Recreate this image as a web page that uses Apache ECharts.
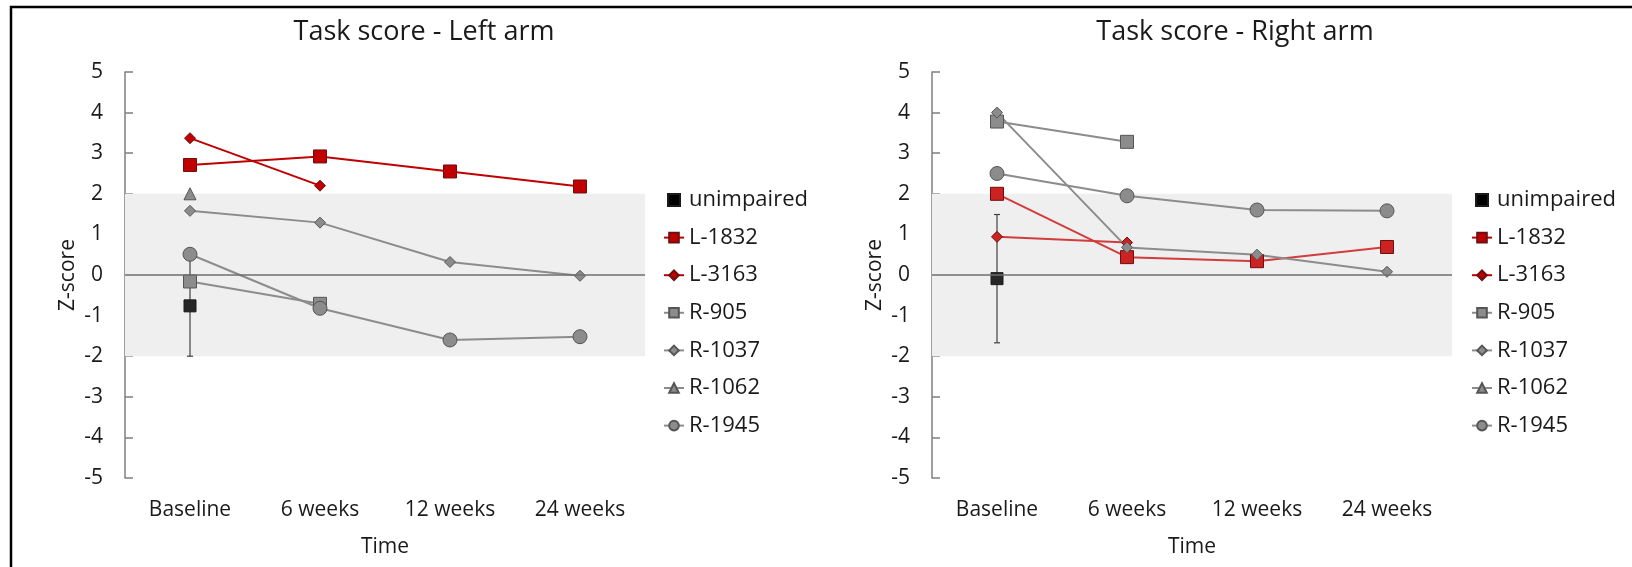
<!DOCTYPE html>
<html>
<head>
<meta charset="utf-8">
<title>Task score</title>
<script src="https://cdn.jsdelivr.net/npm/echarts@6/dist/echarts.min.js"></script>
<style>
    html, body { margin: 0; padding: 0; background: #fff; }
    #chart { width: 1632px; height: 567px; }
</style>
</head>
<body>
<div id="chart"></div>
<script>
// 横轴类别
const timeLabels = ['Baseline', '6 weeks', '12 weeks', '24 weeks'];
const seriesNames = ['unimpaired', 'L-1832', 'L-3163', 'R-905', 'R-1037', 'R-1062', 'R-1945'];

// 左臂数据
const leftUnimpaired = [-0.76, null, null, null];
const leftUnimpairedSd = [1.24, null, null, null];
const leftL1832 = [2.71, 2.92, 2.55, 2.18];
const leftL3163 = [3.37, 2.20, null, null];
const leftR905 = [-0.16, -0.71, null, null];
const leftR1037 = [1.58, 1.29, 0.32, -0.02];
const leftR1062 = [2.00, null, null, null];
const leftR1945 = [0.51, -0.82, -1.60, -1.52];

// 右臂数据
const rightUnimpaired = [-0.09, null, null, null];
const rightUnimpairedSd = [1.58, null, null, null];
const rightL1832 = [2.00, 0.44, 0.34, 0.69];
const rightL3163 = [0.94, 0.80, null, null];
const rightR905 = [3.78, 3.28, null, null];
const rightR1037 = [4.00, 0.68, 0.50, 0.08];
const rightR1062 = [null, null, null, null];
const rightR1945 = [2.50, 1.95, 1.60, 1.58];

const FONT = 'Open Sans';
const TEXT = '#1a1a1a';
const GRAY = '#8c8c8c';
const GRAY_BORDER = '#555';

const chart = echarts.init(document.getElementById('chart'));

// 每个小图的位置
const panels = [
    { title: 'Task score - Left arm', gridLeft: 125, titleX: 419, legendX: 658, red: '#c00000', redLine: '#c00000',
      data: [leftUnimpaired, leftL1832, leftL3163, leftR905, leftR1037, leftR1062, leftR1945], sd: leftUnimpairedSd },
    { title: 'Task score - Right arm', gridLeft: 932, titleX: 1230, legendX: 1466, red: '#cc2222', redLine: '#d23c3c',
      data: [rightUnimpaired, rightL1832, rightL3163, rightR905, rightR1037, rightR1062, rightR1945], sd: rightUnimpairedSd }
];

function markerStyle(name, p) {
    const isRed = name.startsWith('L-');
    const shape = { 'L-1832': 'rect', 'L-3163': 'diamond', 'R-905': 'rect', 'R-1037': 'diamond', 'R-1062': 'triangle', 'R-1945': 'circle' }[name];
    const size = { 'L-1832': 13, 'L-3163': 11, 'R-905': 13, 'R-1037': 11, 'R-1062': 12, 'R-1945': 14 }[name];
    return {
        symbol: shape,
        symbolSize: size,
        lineStyle: { color: isRed ? p.redLine : GRAY, width: 2 },
        itemStyle: { color: isRed ? p.red : GRAY, borderColor: isRed ? '#6b0f0f' : GRAY_BORDER, borderWidth: 1 }
    };
}

const option = {
    animation: false,
    textStyle: { fontFamily: FONT },
    title: [],
    legend: [],
    grid: [],
    xAxis: [],
    yAxis: [],
    series: [],
    graphic: [{
        type: 'polyline',
        shape: { points: [[11, 567], [11, 7], [1632, 7]] },
        style: { stroke: '#000', lineWidth: 2.5, fill: null }
    }]
};

panels.forEach((p, i) => {
    option.title.push({
        text: p.title, left: p.titleX, top: 14, textAlign: 'center',
        textStyle: { fontFamily: FONT, fontSize: 27, fontWeight: 'normal', color: TEXT }
    });
    option.grid.push({ left: p.gridLeft, top: 72, width: 520, height: 406 });
    option.xAxis.push({
        type: 'category', gridIndex: i, data: timeLabels, boundaryGap: true,
        axisLine: { show: false }, axisTick: { show: false },
        axisLabel: { color: TEXT, fontSize: 21, margin: 22, fontFamily: FONT },
        name: 'Time', nameLocation: 'middle', nameGap: 59,
        nameTextStyle: { color: TEXT, fontSize: 21, fontFamily: FONT }
    });
    option.yAxis.push({
        type: 'value', gridIndex: i, min: -5, max: 5, interval: 1,
        axisLine: { show: true, lineStyle: { color: '#7f7f7f', width: 1.5 } },
        axisTick: { show: true, inside: true, length: 8, lineStyle: { color: '#7f7f7f', width: 1.5 } },
        splitLine: { show: false },
        axisLabel: { color: TEXT, fontSize: 21, margin: 22, fontFamily: FONT },
        name: 'Z-score', nameLocation: 'middle', nameGap: 46,
        nameTextStyle: { color: TEXT, fontSize: 21, fontFamily: FONT }
    });
    option.legend.push({
        orient: 'vertical', left: p.legendX, top: 184,
        itemWidth: 20, itemHeight: 12, itemGap: 15.6,
        textStyle: { color: TEXT, fontSize: 22, lineHeight: 22, fontFamily: FONT },
        data: seriesNames.map(n => n === 'unimpaired'
            ? { name: n, icon: 'path://M0,0h10v10h-10z', itemStyle: { color: '#000' } }
            : { name: n })
    });

    // 误差棒
    option.series.push({
        type: 'custom', name: 'unimpaired-sd', xAxisIndex: i, yAxisIndex: i, z: 1, silent: true,
        data: p.data[0].map((v, k) => v == null ? null : [k, v - p.sd[k], v + p.sd[k]]).filter(Boolean),
        renderItem: function (params, api) {
            const lo = api.coord([api.value(0), api.value(1)]);
            const hi = api.coord([api.value(0), api.value(2)]);
            const style = { stroke: '#404040', lineWidth: 1.2 };
            return {
                type: 'group', children: [
                    { type: 'line', shape: { x1: lo[0], y1: lo[1], x2: hi[0], y2: hi[1] }, style: style },
                    { type: 'line', shape: { x1: lo[0] - 3, y1: lo[1], x2: lo[0] + 3, y2: lo[1] }, style: style },
                    { type: 'line', shape: { x1: hi[0] - 3, y1: hi[1], x2: hi[0] + 3, y2: hi[1] }, style: style }
                ]
            };
        }
    });

    seriesNames.forEach((name, k) => {
        const s = {
            type: 'line', name: name, xAxisIndex: i, yAxisIndex: i, z: 3,
            data: p.data[k], connectNulls: false, showSymbol: true
        };
        if (name === 'unimpaired') {
            Object.assign(s, {
                symbol: 'rect', symbolSize: 12,
                lineStyle: { width: 0 },
                itemStyle: { color: '#262626', borderColor: '#1a1a1a', borderWidth: 1 },
                markArea: {
                    silent: true, itemStyle: { color: '#efefef' },
                    data: [[{ yAxis: -2 }, { yAxis: 2 }]]
                },
                markLine: {
                    silent: true, symbol: 'none', label: { show: false },
                    lineStyle: { color: '#6f6f6f', width: 1.5, type: 'solid' },
                    data: [{ yAxis: 0 }]
                }
            });
        } else {
            Object.assign(s, markerStyle(name, p));
        }
        option.series.push(s);
    });
});

chart.setOption(option);
</script>
</body>
</html>
